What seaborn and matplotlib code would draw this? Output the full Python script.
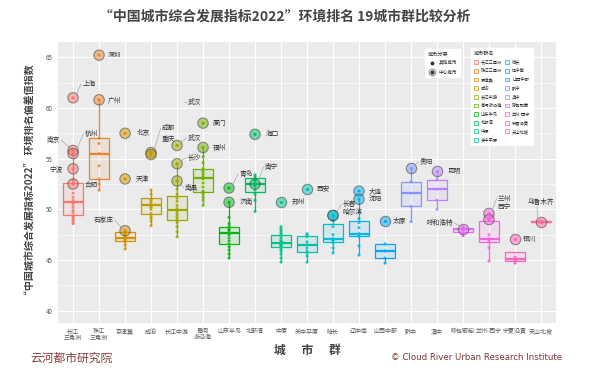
import math
import numpy as np
import pandas as pd
import matplotlib.pyplot as plt
import seaborn as sns
from matplotlib.lines import Line2D
from matplotlib.patches import Patch

# city clusters (x axis)
groups = ['长江\n三角洲', '珠江\n三角洲', '京津冀', '成渝', '长江中游', '粤闽\n浙沿海',
          '山东半岛', '北部湾', '中原', '关中平原', '哈长', '辽中南', '山西中部',
          '黔中', '滇中', '呼包鄂榆', '兰州-西宁', '宁夏沿黄', '天山北坡']
legend_names = [g.replace('\n', '') for g in groups]

# scores of the non-central cities in each cluster
other_values = [
    [48.6, 48.8, 49.0, 49.1, 49.3, 49.4, 49.7, 49.9, 50.2, 50.5, 50.7, 50.9, 51.2, 51.6, 52.6, 52.9],
    [57.0, 56.5, 55.5, 54.3, 53.0, 52.5, 51.9],
    [47.8, 47.6, 47.4, 47.2, 47.1, 47.0, 46.9, 46.8, 46.5, 46.1],
    [48.4, 48.8, 49.1, 49.3, 49.6, 50.0, 50.2, 50.3, 50.5, 50.7, 50.9, 51.0, 51.5, 51.9],
    [47.3, 47.8, 48.3, 48.7, 48.9, 49.1, 49.3, 49.5, 49.7, 49.9, 50.1, 50.4, 50.8, 51.1, 51.5, 52.0],
    [50.4, 50.9, 51.2, 51.5, 51.7, 51.8, 52.2, 52.6, 53.0, 53.2, 53.4, 53.6, 53.8, 54.0, 54.6, 55.2],
    [45.2, 45.6, 46.0, 46.3, 46.6, 46.9, 47.2, 47.5, 47.7, 47.9, 48.0, 48.1, 48.3, 48.6, 49.2],
    [49.8, 50.9, 51.5, 51.9, 52.3, 52.8, 52.9, 53.2, 53.4],
    [44.8, 45.2, 45.6, 45.9, 46.1, 46.3, 46.4, 46.5, 46.6, 46.65, 46.7, 46.8, 46.9, 47.1, 47.3,
     47.5, 47.7, 47.9, 48.1, 48.3],
    [44.8, 45.4, 45.7, 45.9, 46.2, 46.5, 46.8, 47.3, 47.5, 47.6],
    [45.7, 46.2, 46.7, 46.9, 47.0, 47.1, 47.5, 48.3, 48.9],
    [45.5, 46.4, 47.3, 47.5, 47.55, 47.6, 48.2, 48.7, 49.1],
    [44.7, 45.2, 45.9, 46.6],
    [52.7, 51.6, 50.3, 48.8],
    [52.9, 52.0, 50.9, 50.0],
    [48.3, 48.2, 48.0, 47.7, 47.4],
    [44.9, 46.2, 46.8, 47.0, 47.1, 47.5, 48.9],
    [45.3, 45.0, 44.7],
    [48.85, 48.75],
]

# central cities
center_names = [
    ['上海', '南京', '杭州', '宁波', '合肥'],
    ['深圳', '广州'],
    ['北京', '天津', '石家庄'],
    ['成都', '重庆'],
    ['武汉', '长沙', '南昌'],
    ['厦门', '福州'],
    ['青岛', '济南'],
    ['南宁', '海口'],
    ['郑州'],
    ['西安'],
    ['长春', '哈尔滨'],
    ['大连', '沈阳'],
    ['太原'],
    ['贵阳'],
    ['昆明'],
    ['呼和浩特'],
    ['兰州', '西宁'],
    ['银川'],
    ['乌鲁木齐'],
]
center_values = [
    [61.0, 55.8, 55.5, 54.0, 52.5],
    [65.2, 60.8],
    [57.5, 53.0, 47.9],
    [55.6, 55.4],
    [56.3, 54.5, 52.8],
    [58.5, 56.1],
    [52.1, 50.7],
    [52.5, 57.4],
    [50.7],
    [52.0],
    [49.4, 49.4],
    [51.8, 51.0],
    [48.9],
    [54.1],
    [53.8],
    [48.1],
    [49.6, 49.0],
    [47.1],
    [48.8],
]

# label text placement: (x, y, ha, leader line)
label_pos = {
    '深圳': (1.35, 65.2, 'left', False), '上海': (0.35, 62.35, 'left', True),
    '广州': (1.35, 60.8, 'left', False), '杭州': (0.45, 57.45, 'left', True),
    '南京': (-0.5, 56.8, 'right', True), '宁波': (-0.38, 54.0, 'right', False),
    '合肥': (0.45, 52.4, 'left', False), '北京': (2.45, 57.5, 'left', False),
    '天津': (2.4, 53.0, 'left', False), '成都': (3.42, 58.0, 'left', True),
    '重庆': (3.42, 56.9, 'left', False), '石家庄': (1.55, 48.95, 'right', True),
    '武汉': (4.42, 57.05, 'left', True), '长沙': (4.42, 55.1, 'left', True),
    '南昌': (4.3, 52.15, 'left', True), '厦门': (5.38, 58.5, 'left', False),
    '福州': (5.38, 56.1, 'left', False), '海口': (7.42, 57.4, 'left', False),
    '青岛': (6.4, 53.5, 'left', True), '南宁': (7.38, 54.2, 'left', True),
    '济南': (6.42, 50.7, 'left', False), '郑州': (8.42, 50.7, 'left', False),
    '西安': (9.38, 52.0, 'left', False), '大连': (11.38, 51.8, 'left', False),
    '沈阳': (11.38, 51.0, 'left', False), '长春': (10.38, 50.5, 'left', True),
    '哈尔滨': (10.38, 49.7, 'left', False), '太原': (12.3, 48.9, 'left', False),
    '贵阳': (13.35, 54.7, 'left', True), '昆明': (14.38, 53.8, 'left', False),
    '呼和浩特': (14.6, 48.7, 'right', True), '兰州': (16.35, 51.1, 'left', True),
    '西宁': (16.35, 50.2, 'left', False), '银川': (17.3, 47.1, 'left', False),
    '乌鲁木齐': (18.0, 50.7, 'center', True),
}


def hcl_color(h, c=100.0, l=65.0):
    hr = math.radians(h)
    u, v = c * math.cos(hr), c * math.sin(hr)
    xn, yn, zn = 0.95047, 1.0, 1.08883
    den = xn + 15 * yn + 3 * zn
    un, vn = 4 * xn / den, 9 * yn / den
    y = ((l + 16) / 116) ** 3
    up, vp = u / (13 * l) + un, v / (13 * l) + vn
    x = 9 * y * up / (4 * vp)
    z = y * (12 - 3 * up - 20 * vp) / (4 * vp)
    rgb = [3.2404542 * x - 1.5371385 * y - 0.4985314 * z,
           -0.9692660 * x + 1.8760108 * y + 0.0415560 * z,
           0.0556434 * x - 0.2040259 * y + 1.0572252 * z]
    out = []
    for ch in rgb:
        ch = 12.92 * ch if ch <= 0.0031308 else 1.055 * ch ** (1 / 2.4) - 0.055
        out.append(min(max(ch, 0), 1))
    return tuple(out)


pal = [hcl_color(h) for h in np.linspace(15, 375, len(groups) + 1)[:-1]]

rows = []
for g, vals in zip(groups, other_values):
    rows += [(g, v, '其他城市') for v in vals]
for g, vals in zip(groups, center_values):
    rows += [(g, v, '中心城市') for v in vals]
df = pd.DataFrame(rows, columns=['group', 'value', 'kind'])

sns.set_theme(style='darkgrid')
plt.rcParams['font.family'] = ['Noto Sans CJK SC', 'DejaVu Sans']

fig = plt.figure(figsize=(5.99, 3.78), dpi=100)
ax = fig.add_axes([58 / 599, 55 / 378, 498 / 599, 281 / 378])
ax.set_facecolor('#EBEBEB')

sns.boxplot(data=df, x='group', y='value', hue='group', order=groups, hue_order=groups,
            palette=pal, width=0.75, showfliers=False, showcaps=False, linewidth=0.9,
            medianprops=dict(linewidth=1.6), legend=False, ax=ax)
for i, p in enumerate(ax.patches):
    c = pal[i]
    p.set_facecolor((*c, 0.1))
    p.set_edgecolor(c)
for ln in list(ax.lines):
    xd = np.asarray(ln.get_xdata(), dtype=float)
    if len(xd):
        ln.set_color(pal[int(round(xd.mean()))])

others = df[df.kind == '其他城市']
centers = df[df.kind == '中心城市']
sns.stripplot(data=others, x='group', y='value', hue='group', order=groups, hue_order=groups,
              palette=pal, jitter=False, size=2.2, linewidth=0, alpha=0.85,
              legend=False, ax=ax, zorder=3)
sns.stripplot(data=centers, x='group', y='value', hue='group', order=groups, hue_order=groups,
              palette=pal, jitter=False, size=7.5, linewidth=0.8, alpha=0.5,
              legend=False, ax=ax, zorder=4)
sns.stripplot(data=centers, x='group', y='value', hue='group', order=groups, hue_order=groups,
              palette=pal, jitter=False, size=2.2, linewidth=0, legend=False, ax=ax, zorder=5)

# city labels
for gi, (names, vals) in enumerate(zip(center_names, center_values)):
    for name, val in zip(names, vals):
        tx, ty, ha, leader = label_pos[name]
        ax.text(tx, ty, name, fontsize=4.8, color='#333333', ha=ha, va='center', zorder=6)
        if leader:
            lx = tx - 0.05 if ha == 'left' else (tx + 0.05 if ha == 'right' else tx - 0.15)
            ly = ty if ha != 'center' else ty - 0.5
            ax.plot([gi + 0.12 * np.sign(lx - gi), lx], [val + 0.25 * np.sign(ly - val), ly],
                    color='#999999', lw=0.4, zorder=5)
# stray label in the original
ax.text(4.42, 60.6, '武汉', fontsize=4.8, color='#333333', ha='left', va='center')
ax.plot([4.28, 4.37], [60.6, 60.6], color='#999999', lw=0.4)

ax.set_xlim(-0.58, 18.58)
ax.set_ylim(38.8, 66.5)
ax.set_yticks([40, 45, 50, 55, 60, 65])
ax.set_yticks(np.arange(42.5, 66, 5), minor=True)
ax.grid(which='major', color='white', lw=0.8)
ax.grid(which='minor', axis='y', color='white', lw=0.4)
for s in ax.spines.values():
    s.set_visible(False)
ax.tick_params(axis='both', which='major', labelsize=4.5, colors='#555555', length=2, width=0.5, pad=2)
ax.tick_params(axis='x', labelsize=4.3)
ax.tick_params(which='minor', length=0)
ax.set_xlabel('城      市      群', fontsize=8.5, fontweight='bold', color='#444444', labelpad=2)
ax.set_ylabel('“中国城市综合发展指标2022” 环境排名偏差值指数', fontsize=7.2,
              fontweight='bold', color='#444444', labelpad=8)

# legends
kind_handles = [
    Line2D([], [], marker='o', ls='', color='#333333', markersize=1.8),
    (Line2D([], [], marker='o', ls='', color='#888888', alpha=0.55, markersize=5),
     Line2D([], [], marker='o', ls='', color='#333333', markersize=1.6)),
]
leg1 = ax.legend(kind_handles, ['其他城市', '中心城市'], title='城市分类', loc='upper left',
                 bbox_to_anchor=(0.733, 0.985), fontsize=3.3, title_fontsize=3.7,
                 frameon=True, facecolor='white', edgecolor='white', framealpha=1,
                 handlelength=1.5, borderpad=0.6, labelspacing=0.9)
leg1._legend_box.align = 'left'
ax.add_artist(leg1)
grp_handles = [Patch(facecolor=(*c, 0.15), edgecolor=c, lw=0.5) for c in pal]
leg2 = ax.legend(grp_handles, legend_names, title='城市群名', loc='upper left',
                 bbox_to_anchor=(0.825, 0.985), ncol=2, fontsize=3.1, title_fontsize=3.7,
                 frameon=True, facecolor='white', edgecolor='white', framealpha=1,
                 handlelength=1.0, handleheight=1.0, borderpad=0.6, labelspacing=0.85,
                 columnspacing=0.8, handletextpad=0.6)
leg2._legend_box.align = 'left'

fig.text(285 / 599, 0.955, '“中国城市综合发展指标2022”环境排名 19城市群比较分析', ha='center',
         va='center', fontsize=10, fontweight='bold', color='#444444')
fig.text(30 / 599, 1 - 358 / 378, '云河都市研究院', ha='left', va='center', fontsize=8.5,
         color='#8B3A3A')
fig.text(562 / 599, 1 - 358 / 378, '© Cloud River Urban Research Institute', ha='right',
         va='center', fontsize=6.2, color='#7A3535', family=['Liberation Sans Narrow', 'DejaVu Sans'])

fig.savefig('out.png', dpi=100, facecolor='white')
